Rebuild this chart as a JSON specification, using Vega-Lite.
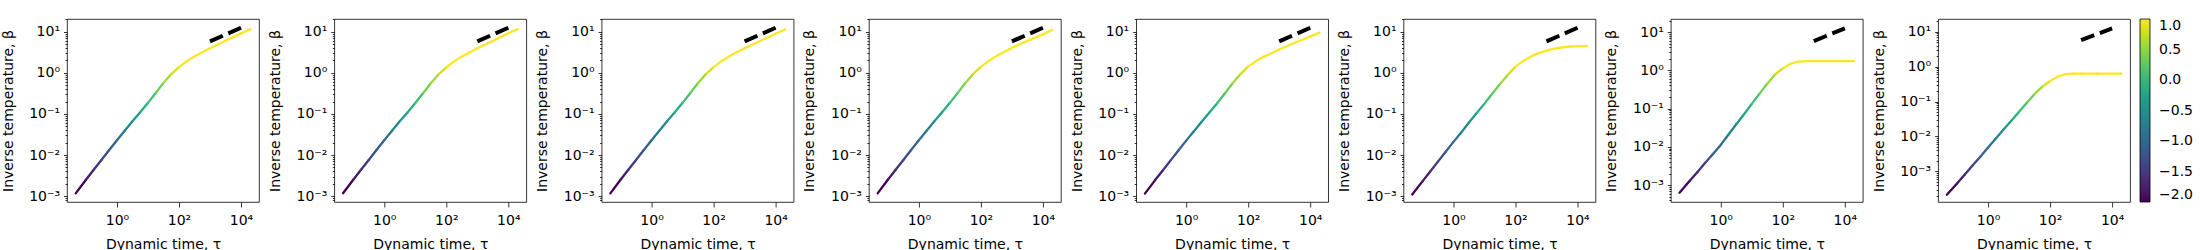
{
"$schema": "https://vega.github.io/schema/vega-lite/v6.json",
"padding": {"left": 0, "top": 11, "right": 0, "bottom": 0},
"bounds": "flush",
"spacing": 75.3,
"datasets": {
"dash": [{"t": 1000, "b": 5.8}, {"t": 10000, "b": 12.5}],
"curves": [
{"p":1,"t":0.0468,"b":0.00117,"c":-2},{"p":1,"t":0.1,"b":0.00251,"c":-1.8},{"p":1,"t":0.178,"b":0.00437,"c":-1.56},{"p":1,"t":0.316,"b":0.00759,"c":-1.33},{"p":1,"t":0.562,"b":0.0132,"c":-1.09},{"p":1,"t":1,"b":0.0229,"c":-0.85},{"p":1,"t":1.78,"b":0.0389,"c":-0.61},{"p":1,"t":3.16,"b":0.0661,"c":-0.38},{"p":1,"t":5.62,"b":0.11,"c":-0.14},{"p":1,"t":10,"b":0.186,"c":0.1},{"p":1,"t":17.8,"b":0.324,"c":0.34},{"p":1,"t":31.6,"b":0.569,"c":0.58},{"p":1,"t":56.2,"b":0.933,"c":0.81},{"p":1,"t":100,"b":1.38,"c":1},{"p":1,"t":178,"b":1.91,"c":1},{"p":1,"t":316,"b":2.51,"c":1},{"p":1,"t":562,"b":3.16,"c":1},{"p":1,"t":1000,"b":3.98,"c":1},{"p":1,"t":3160,"b":6.03,"c":1},{"p":1,"t":10000,"b":9.12,"c":1},{"p":1,"t":20000,"b":11.5,"c":1},
{"p":2,"t":0.0468,"b":0.00118,"c":-2},{"p":2,"t":0.1,"b":0.00251,"c":-1.8},{"p":2,"t":0.178,"b":0.00437,"c":-1.56},{"p":2,"t":0.316,"b":0.00759,"c":-1.33},{"p":2,"t":0.562,"b":0.0132,"c":-1.09},{"p":2,"t":1,"b":0.0229,"c":-0.85},{"p":2,"t":1.78,"b":0.0389,"c":-0.61},{"p":2,"t":3.16,"b":0.0661,"c":-0.38},{"p":2,"t":5.62,"b":0.109,"c":-0.14},{"p":2,"t":10,"b":0.184,"c":0.1},{"p":2,"t":17.8,"b":0.318,"c":0.34},{"p":2,"t":31.6,"b":0.555,"c":0.58},{"p":2,"t":56.2,"b":0.915,"c":0.81},{"p":2,"t":100,"b":1.36,"c":1},{"p":2,"t":178,"b":1.9,"c":1},{"p":2,"t":316,"b":2.48,"c":1},{"p":2,"t":562,"b":3.13,"c":1},{"p":2,"t":1000,"b":3.95,"c":1},{"p":2,"t":3160,"b":6.0,"c":1},{"p":2,"t":10000,"b":9.2,"c":1},{"p":2,"t":20000,"b":11.6,"c":1},
{"p":3,"t":0.0468,"b":0.00117,"c":-2},{"p":3,"t":0.1,"b":0.00251,"c":-1.8},{"p":3,"t":0.178,"b":0.00437,"c":-1.56},{"p":3,"t":0.316,"b":0.00759,"c":-1.33},{"p":3,"t":0.562,"b":0.0132,"c":-1.09},{"p":3,"t":1,"b":0.0229,"c":-0.85},{"p":3,"t":1.78,"b":0.0389,"c":-0.61},{"p":3,"t":3.16,"b":0.0661,"c":-0.38},{"p":3,"t":5.62,"b":0.11,"c":-0.14},{"p":3,"t":10,"b":0.186,"c":0.1},{"p":3,"t":17.8,"b":0.324,"c":0.34},{"p":3,"t":31.6,"b":0.565,"c":0.58},{"p":3,"t":56.2,"b":0.93,"c":0.81},{"p":3,"t":100,"b":1.38,"c":1},{"p":3,"t":178,"b":1.92,"c":1},{"p":3,"t":316,"b":2.5,"c":1},{"p":3,"t":562,"b":3.15,"c":1},{"p":3,"t":1000,"b":3.95,"c":1},{"p":3,"t":3160,"b":5.95,"c":1},{"p":3,"t":10000,"b":8.9,"c":1},{"p":3,"t":20000,"b":11.3,"c":1},
{"p":4,"t":0.0468,"b":0.00117,"c":-2},{"p":4,"t":0.1,"b":0.00251,"c":-1.8},{"p":4,"t":0.178,"b":0.00437,"c":-1.56},{"p":4,"t":0.316,"b":0.00759,"c":-1.33},{"p":4,"t":0.562,"b":0.0132,"c":-1.09},{"p":4,"t":1,"b":0.0229,"c":-0.85},{"p":4,"t":1.78,"b":0.0389,"c":-0.61},{"p":4,"t":3.16,"b":0.0661,"c":-0.38},{"p":4,"t":5.62,"b":0.11,"c":-0.14},{"p":4,"t":10,"b":0.186,"c":0.1},{"p":4,"t":17.8,"b":0.324,"c":0.34},{"p":4,"t":31.6,"b":0.569,"c":0.58},{"p":4,"t":56.2,"b":0.94,"c":0.81},{"p":4,"t":100,"b":1.4,"c":1},{"p":4,"t":178,"b":1.95,"c":1},{"p":4,"t":316,"b":2.55,"c":1},{"p":4,"t":562,"b":3.22,"c":1},{"p":4,"t":1000,"b":4.05,"c":1},{"p":4,"t":3160,"b":6.0,"c":1},{"p":4,"t":10000,"b":8.6,"c":1},{"p":4,"t":20000,"b":11.2,"c":1},
{"p":5,"t":0.0468,"b":0.00115,"c":-2},{"p":5,"t":0.1,"b":0.00246,"c":-1.8},{"p":5,"t":0.178,"b":0.00428,"c":-1.56},{"p":5,"t":0.316,"b":0.00742,"c":-1.33},{"p":5,"t":0.562,"b":0.0129,"c":-1.09},{"p":5,"t":1,"b":0.0224,"c":-0.85},{"p":5,"t":1.78,"b":0.038,"c":-0.61},{"p":5,"t":3.16,"b":0.0646,"c":-0.38},{"p":5,"t":5.62,"b":0.108,"c":-0.14},{"p":5,"t":10,"b":0.182,"c":0.1},{"p":5,"t":17.8,"b":0.318,"c":0.34},{"p":5,"t":31.6,"b":0.56,"c":0.58},{"p":5,"t":56.2,"b":0.93,"c":0.81},{"p":5,"t":100,"b":1.42,"c":1},{"p":5,"t":178,"b":1.93,"c":1},{"p":5,"t":316,"b":2.45,"c":1},{"p":5,"t":562,"b":3.0,"c":1},{"p":5,"t":1000,"b":3.7,"c":1},{"p":5,"t":3160,"b":5.4,"c":1},{"p":5,"t":10000,"b":7.6,"c":1},{"p":5,"t":20000,"b":9.5,"c":1},
{"p":6,"t":0.0468,"b":0.0011,"c":-2},{"p":6,"t":0.1,"b":0.00229,"c":-1.8},{"p":6,"t":0.178,"b":0.00398,"c":-1.56},{"p":6,"t":0.316,"b":0.00692,"c":-1.33},{"p":6,"t":0.562,"b":0.012,"c":-1.09},{"p":6,"t":1,"b":0.0209,"c":-0.85},{"p":6,"t":1.78,"b":0.0355,"c":-0.61},{"p":6,"t":3.16,"b":0.0617,"c":-0.38},{"p":6,"t":5.62,"b":0.105,"c":-0.14},{"p":6,"t":10,"b":0.178,"c":0.1},{"p":6,"t":17.8,"b":0.309,"c":0.34},{"p":6,"t":31.6,"b":0.537,"c":0.58},{"p":6,"t":56.2,"b":0.891,"c":0.81},{"p":6,"t":100,"b":1.41,"c":1},{"p":6,"t":178,"b":1.95,"c":1},{"p":6,"t":316,"b":2.51,"c":1},{"p":6,"t":562,"b":3.02,"c":1},{"p":6,"t":1000,"b":3.47,"c":1},{"p":6,"t":1780,"b":3.89,"c":1},{"p":6,"t":3160,"b":4.17,"c":1},{"p":6,"t":5620,"b":4.37,"c":1},{"p":6,"t":10000,"b":4.42,"c":1},{"p":6,"t":20000,"b":4.52,"c":1},
{"p":7,"t":0.0468,"b":0.000631,"c":-2},{"p":7,"t":0.1,"b":0.00129,"c":-1.8},{"p":7,"t":0.178,"b":0.00219,"c":-1.56},{"p":7,"t":0.316,"b":0.0038,"c":-1.33},{"p":7,"t":0.562,"b":0.00646,"c":-1.09},{"p":7,"t":1,"b":0.0112,"c":-0.85},{"p":7,"t":1.78,"b":0.0209,"c":-0.61},{"p":7,"t":3.16,"b":0.0389,"c":-0.38},{"p":7,"t":5.62,"b":0.0708,"c":-0.14},{"p":7,"t":10,"b":0.132,"c":0.1},{"p":7,"t":17.8,"b":0.245,"c":0.34},{"p":7,"t":31.6,"b":0.447,"c":0.58},{"p":7,"t":56.2,"b":0.776,"c":0.81},{"p":7,"t":100,"b":1.12,"c":1},{"p":7,"t":178,"b":1.48,"c":1},{"p":7,"t":316,"b":1.68,"c":1},{"p":7,"t":562,"b":1.74,"c":1},{"p":7,"t":1000,"b":1.74,"c":1},{"p":7,"t":3160,"b":1.74,"c":1},{"p":7,"t":10000,"b":1.74,"c":1},{"p":7,"t":20000,"b":1.74,"c":1},
{"p":8,"t":0.0468,"b":0.000214,"c":-2},{"p":8,"t":0.1,"b":0.000447,"c":-1.8},{"p":8,"t":0.178,"b":0.000813,"c":-1.56},{"p":8,"t":0.316,"b":0.00148,"c":-1.33},{"p":8,"t":0.562,"b":0.00263,"c":-1.09},{"p":8,"t":1,"b":0.00479,"c":-0.85},{"p":8,"t":1.78,"b":0.00871,"c":-0.61},{"p":8,"t":3.16,"b":0.0159,"c":-0.38},{"p":8,"t":5.62,"b":0.0282,"c":-0.14},{"p":8,"t":10,"b":0.0513,"c":0.1},{"p":8,"t":17.8,"b":0.0933,"c":0.34},{"p":8,"t":31.6,"b":0.166,"c":0.58},{"p":8,"t":56.2,"b":0.269,"c":0.81},{"p":8,"t":100,"b":0.389,"c":1},{"p":8,"t":178,"b":0.525,"c":1},{"p":8,"t":316,"b":0.61,"c":1},{"p":8,"t":562,"b":0.631,"c":1},{"p":8,"t":1000,"b":0.631,"c":1},{"p":8,"t":3160,"b":0.631,"c":1},{"p":8,"t":10000,"b":0.631,"c":1},{"p":8,"t":20000,"b":0.631,"c":1}
]
},
"resolve": {"scale": {"color": "shared"}, "legend": {"color": "shared"}},
"hconcat": [
{"width":192,"height":183,
 "encoding":{
  "x":{"field":"t","type":"quantitative","title":"Dynamic time, τ","scale":{"type":"log","domain":[0.0245,38000]},"axis":{"values":[1,100,10000],"labelExpr":"'10' + (datum.value < 1 ? '⁻' : '') + ['⁰','¹','²','³','⁴','⁵'][abs(round(log(datum.value)/LN10))]"}},
  "y":{"field":"b","type":"quantitative","title":"Inverse temperature, β","scale":{"type":"log","domain":[0.00072,20.4]},"axis":{"values":[0.0002,0.0003,0.0004,0.0005,0.0006,0.0007,0.0008,0.0009,0.001,0.002,0.003,0.004,0.005,0.006,0.007,0.008,0.009,0.01,0.02,0.03,0.04,0.05,0.06,0.07,0.08,0.09,0.1,0.2,0.3,0.4,0.5,0.6,0.7,0.8,0.9,1,2,3,4,5,6,7,8,9,10,20],"labelExpr":"abs(log(datum.value)/LN10 - round(log(datum.value)/LN10)) < 0.001 ? '10' + (datum.value < 1 ? '⁻' : '') + ['⁰','¹','²','³','⁴','⁵'][abs(round(log(datum.value)/LN10))] : ''","tickSize":{"condition":{"test":"abs(log(datum.value)/LN10 - round(log(datum.value)/LN10)) < 0.001","value":3.5},"value":2}}}
 },
 "layer":[
  {"data":{"name":"curves"},"transform":[{"filter":"datum.p == 1"},{"window":[{"op":"lead","field":"t","as":"t2"},{"op":"lead","field":"b","as":"b2"}],"sort":[{"field":"t","order":"ascending"}]},{"filter":"isValid(datum.t2)"}],
   "mark":{"type":"rule","strokeWidth":2.3,"strokeCap":"round"},
   "encoding":{"x2":{"field":"t2"},"y2":{"field":"b2"},"color":{"field":"c","type":"quantitative","scale":{"scheme":"viridis","domain":[-2,1]},"legend":{"title":null,"gradientLength":183,"gradientThickness":10,"values":[-2,-1.5,-1,-0.5,0,0.5,1],"format":".1f","labelExpr":"replace(datum.label, '-', '−')","gradientStrokeColor":"black","gradientStrokeWidth":0.8,"labelFontSize":14,"labelColor":"black","labelFont":"DejaVu Sans","labelOffset":9,"labelBaseline":"middle","offset":9,"padding":0,"direction":"vertical","orient":"right"}}}},
  {"data":{"name":"dash"},"mark":{"type":"line","color":"black","strokeWidth":4,"strokeDash":[14,6]},"encoding":{}}
 ]},
{"width":192,"height":183,
 "encoding":{
  "x":{"field":"t","type":"quantitative","title":"Dynamic time, τ","scale":{"type":"log","domain":[0.0245,38000]},"axis":{"values":[1,100,10000],"labelExpr":"'10' + (datum.value < 1 ? '⁻' : '') + ['⁰','¹','²','³','⁴','⁵'][abs(round(log(datum.value)/LN10))]"}},
  "y":{"field":"b","type":"quantitative","title":"Inverse temperature, β","scale":{"type":"log","domain":[0.00072,20.4]},"axis":{"values":[0.0002,0.0003,0.0004,0.0005,0.0006,0.0007,0.0008,0.0009,0.001,0.002,0.003,0.004,0.005,0.006,0.007,0.008,0.009,0.01,0.02,0.03,0.04,0.05,0.06,0.07,0.08,0.09,0.1,0.2,0.3,0.4,0.5,0.6,0.7,0.8,0.9,1,2,3,4,5,6,7,8,9,10,20],"labelExpr":"abs(log(datum.value)/LN10 - round(log(datum.value)/LN10)) < 0.001 ? '10' + (datum.value < 1 ? '⁻' : '') + ['⁰','¹','²','³','⁴','⁵'][abs(round(log(datum.value)/LN10))] : ''","tickSize":{"condition":{"test":"abs(log(datum.value)/LN10 - round(log(datum.value)/LN10)) < 0.001","value":3.5},"value":2}}}
 },
 "layer":[
  {"data":{"name":"curves"},"transform":[{"filter":"datum.p == 2"},{"window":[{"op":"lead","field":"t","as":"t2"},{"op":"lead","field":"b","as":"b2"}],"sort":[{"field":"t","order":"ascending"}]},{"filter":"isValid(datum.t2)"}],
   "mark":{"type":"rule","strokeWidth":2.3,"strokeCap":"round"},
   "encoding":{"x2":{"field":"t2"},"y2":{"field":"b2"},"color":{"field":"c","type":"quantitative","scale":{"scheme":"viridis","domain":[-2,1]}}}},
  {"data":{"name":"dash"},"mark":{"type":"line","color":"black","strokeWidth":4,"strokeDash":[14,6]},"encoding":{}}
 ]},
{"width":192,"height":183,
 "encoding":{
  "x":{"field":"t","type":"quantitative","title":"Dynamic time, τ","scale":{"type":"log","domain":[0.0245,38000]},"axis":{"values":[1,100,10000],"labelExpr":"'10' + (datum.value < 1 ? '⁻' : '') + ['⁰','¹','²','³','⁴','⁵'][abs(round(log(datum.value)/LN10))]"}},
  "y":{"field":"b","type":"quantitative","title":"Inverse temperature, β","scale":{"type":"log","domain":[0.00072,20.4]},"axis":{"values":[0.0002,0.0003,0.0004,0.0005,0.0006,0.0007,0.0008,0.0009,0.001,0.002,0.003,0.004,0.005,0.006,0.007,0.008,0.009,0.01,0.02,0.03,0.04,0.05,0.06,0.07,0.08,0.09,0.1,0.2,0.3,0.4,0.5,0.6,0.7,0.8,0.9,1,2,3,4,5,6,7,8,9,10,20],"labelExpr":"abs(log(datum.value)/LN10 - round(log(datum.value)/LN10)) < 0.001 ? '10' + (datum.value < 1 ? '⁻' : '') + ['⁰','¹','²','³','⁴','⁵'][abs(round(log(datum.value)/LN10))] : ''","tickSize":{"condition":{"test":"abs(log(datum.value)/LN10 - round(log(datum.value)/LN10)) < 0.001","value":3.5},"value":2}}}
 },
 "layer":[
  {"data":{"name":"curves"},"transform":[{"filter":"datum.p == 3"},{"window":[{"op":"lead","field":"t","as":"t2"},{"op":"lead","field":"b","as":"b2"}],"sort":[{"field":"t","order":"ascending"}]},{"filter":"isValid(datum.t2)"}],
   "mark":{"type":"rule","strokeWidth":2.3,"strokeCap":"round"},
   "encoding":{"x2":{"field":"t2"},"y2":{"field":"b2"},"color":{"field":"c","type":"quantitative","scale":{"scheme":"viridis","domain":[-2,1]}}}},
  {"data":{"name":"dash"},"mark":{"type":"line","color":"black","strokeWidth":4,"strokeDash":[14,6]},"encoding":{}}
 ]},
{"width":192,"height":183,
 "encoding":{
  "x":{"field":"t","type":"quantitative","title":"Dynamic time, τ","scale":{"type":"log","domain":[0.0245,38000]},"axis":{"values":[1,100,10000],"labelExpr":"'10' + (datum.value < 1 ? '⁻' : '') + ['⁰','¹','²','³','⁴','⁵'][abs(round(log(datum.value)/LN10))]"}},
  "y":{"field":"b","type":"quantitative","title":"Inverse temperature, β","scale":{"type":"log","domain":[0.00072,20.4]},"axis":{"values":[0.0002,0.0003,0.0004,0.0005,0.0006,0.0007,0.0008,0.0009,0.001,0.002,0.003,0.004,0.005,0.006,0.007,0.008,0.009,0.01,0.02,0.03,0.04,0.05,0.06,0.07,0.08,0.09,0.1,0.2,0.3,0.4,0.5,0.6,0.7,0.8,0.9,1,2,3,4,5,6,7,8,9,10,20],"labelExpr":"abs(log(datum.value)/LN10 - round(log(datum.value)/LN10)) < 0.001 ? '10' + (datum.value < 1 ? '⁻' : '') + ['⁰','¹','²','³','⁴','⁵'][abs(round(log(datum.value)/LN10))] : ''","tickSize":{"condition":{"test":"abs(log(datum.value)/LN10 - round(log(datum.value)/LN10)) < 0.001","value":3.5},"value":2}}}
 },
 "layer":[
  {"data":{"name":"curves"},"transform":[{"filter":"datum.p == 4"},{"window":[{"op":"lead","field":"t","as":"t2"},{"op":"lead","field":"b","as":"b2"}],"sort":[{"field":"t","order":"ascending"}]},{"filter":"isValid(datum.t2)"}],
   "mark":{"type":"rule","strokeWidth":2.3,"strokeCap":"round"},
   "encoding":{"x2":{"field":"t2"},"y2":{"field":"b2"},"color":{"field":"c","type":"quantitative","scale":{"scheme":"viridis","domain":[-2,1]}}}},
  {"data":{"name":"dash"},"mark":{"type":"line","color":"black","strokeWidth":4,"strokeDash":[14,6]},"encoding":{}}
 ]},
{"width":192,"height":183,
 "encoding":{
  "x":{"field":"t","type":"quantitative","title":"Dynamic time, τ","scale":{"type":"log","domain":[0.0245,38000]},"axis":{"values":[1,100,10000],"labelExpr":"'10' + (datum.value < 1 ? '⁻' : '') + ['⁰','¹','²','³','⁴','⁵'][abs(round(log(datum.value)/LN10))]"}},
  "y":{"field":"b","type":"quantitative","title":"Inverse temperature, β","scale":{"type":"log","domain":[0.00072,20.4]},"axis":{"values":[0.0002,0.0003,0.0004,0.0005,0.0006,0.0007,0.0008,0.0009,0.001,0.002,0.003,0.004,0.005,0.006,0.007,0.008,0.009,0.01,0.02,0.03,0.04,0.05,0.06,0.07,0.08,0.09,0.1,0.2,0.3,0.4,0.5,0.6,0.7,0.8,0.9,1,2,3,4,5,6,7,8,9,10,20],"labelExpr":"abs(log(datum.value)/LN10 - round(log(datum.value)/LN10)) < 0.001 ? '10' + (datum.value < 1 ? '⁻' : '') + ['⁰','¹','²','³','⁴','⁵'][abs(round(log(datum.value)/LN10))] : ''","tickSize":{"condition":{"test":"abs(log(datum.value)/LN10 - round(log(datum.value)/LN10)) < 0.001","value":3.5},"value":2}}}
 },
 "layer":[
  {"data":{"name":"curves"},"transform":[{"filter":"datum.p == 5"},{"window":[{"op":"lead","field":"t","as":"t2"},{"op":"lead","field":"b","as":"b2"}],"sort":[{"field":"t","order":"ascending"}]},{"filter":"isValid(datum.t2)"}],
   "mark":{"type":"rule","strokeWidth":2.3,"strokeCap":"round"},
   "encoding":{"x2":{"field":"t2"},"y2":{"field":"b2"},"color":{"field":"c","type":"quantitative","scale":{"scheme":"viridis","domain":[-2,1]}}}},
  {"data":{"name":"dash"},"mark":{"type":"line","color":"black","strokeWidth":4,"strokeDash":[14,6]},"encoding":{}}
 ]},
{"width":192,"height":183,
 "encoding":{
  "x":{"field":"t","type":"quantitative","title":"Dynamic time, τ","scale":{"type":"log","domain":[0.0245,38000]},"axis":{"values":[1,100,10000],"labelExpr":"'10' + (datum.value < 1 ? '⁻' : '') + ['⁰','¹','²','³','⁴','⁵'][abs(round(log(datum.value)/LN10))]"}},
  "y":{"field":"b","type":"quantitative","title":"Inverse temperature, β","scale":{"type":"log","domain":[0.00072,20.4]},"axis":{"values":[0.0002,0.0003,0.0004,0.0005,0.0006,0.0007,0.0008,0.0009,0.001,0.002,0.003,0.004,0.005,0.006,0.007,0.008,0.009,0.01,0.02,0.03,0.04,0.05,0.06,0.07,0.08,0.09,0.1,0.2,0.3,0.4,0.5,0.6,0.7,0.8,0.9,1,2,3,4,5,6,7,8,9,10,20],"labelExpr":"abs(log(datum.value)/LN10 - round(log(datum.value)/LN10)) < 0.001 ? '10' + (datum.value < 1 ? '⁻' : '') + ['⁰','¹','²','³','⁴','⁵'][abs(round(log(datum.value)/LN10))] : ''","tickSize":{"condition":{"test":"abs(log(datum.value)/LN10 - round(log(datum.value)/LN10)) < 0.001","value":3.5},"value":2}}}
 },
 "layer":[
  {"data":{"name":"curves"},"transform":[{"filter":"datum.p == 6"},{"window":[{"op":"lead","field":"t","as":"t2"},{"op":"lead","field":"b","as":"b2"}],"sort":[{"field":"t","order":"ascending"}]},{"filter":"isValid(datum.t2)"}],
   "mark":{"type":"rule","strokeWidth":2.3,"strokeCap":"round"},
   "encoding":{"x2":{"field":"t2"},"y2":{"field":"b2"},"color":{"field":"c","type":"quantitative","scale":{"scheme":"viridis","domain":[-2,1]}}}},
  {"data":{"name":"dash"},"mark":{"type":"line","color":"black","strokeWidth":4,"strokeDash":[14,6]},"encoding":{}}
 ]},
{"width":192,"height":183,
 "encoding":{
  "x":{"field":"t","type":"quantitative","title":"Dynamic time, τ","scale":{"type":"log","domain":[0.0245,38000]},"axis":{"values":[1,100,10000],"labelExpr":"'10' + (datum.value < 1 ? '⁻' : '') + ['⁰','¹','²','³','⁴','⁵'][abs(round(log(datum.value)/LN10))]"}},
  "y":{"field":"b","type":"quantitative","title":"Inverse temperature, β","scale":{"type":"log","domain":[0.00036,21.9]},"axis":{"values":[0.0002,0.0003,0.0004,0.0005,0.0006,0.0007,0.0008,0.0009,0.001,0.002,0.003,0.004,0.005,0.006,0.007,0.008,0.009,0.01,0.02,0.03,0.04,0.05,0.06,0.07,0.08,0.09,0.1,0.2,0.3,0.4,0.5,0.6,0.7,0.8,0.9,1,2,3,4,5,6,7,8,9,10,20],"labelExpr":"abs(log(datum.value)/LN10 - round(log(datum.value)/LN10)) < 0.001 ? '10' + (datum.value < 1 ? '⁻' : '') + ['⁰','¹','²','³','⁴','⁵'][abs(round(log(datum.value)/LN10))] : ''","tickSize":{"condition":{"test":"abs(log(datum.value)/LN10 - round(log(datum.value)/LN10)) < 0.001","value":3.5},"value":2}}}
 },
 "layer":[
  {"data":{"name":"curves"},"transform":[{"filter":"datum.p == 7"},{"window":[{"op":"lead","field":"t","as":"t2"},{"op":"lead","field":"b","as":"b2"}],"sort":[{"field":"t","order":"ascending"}]},{"filter":"isValid(datum.t2)"}],
   "mark":{"type":"rule","strokeWidth":2.3,"strokeCap":"round"},
   "encoding":{"x2":{"field":"t2"},"y2":{"field":"b2"},"color":{"field":"c","type":"quantitative","scale":{"scheme":"viridis","domain":[-2,1]}}}},
  {"data":{"name":"dash"},"mark":{"type":"line","color":"black","strokeWidth":4,"strokeDash":[14,6]},"encoding":{}}
 ]},
{"width":192,"height":183,
 "encoding":{
  "x":{"field":"t","type":"quantitative","title":"Dynamic time, τ","scale":{"type":"log","domain":[0.0245,38000]},"axis":{"values":[1,100,10000],"labelExpr":"'10' + (datum.value < 1 ? '⁻' : '') + ['⁰','¹','²','³','⁴','⁵'][abs(round(log(datum.value)/LN10))]"}},
  "y":{"field":"b","type":"quantitative","title":"Inverse temperature, β","scale":{"type":"log","domain":[0.000132,23.4]},"axis":{"values":[0.0002,0.0003,0.0004,0.0005,0.0006,0.0007,0.0008,0.0009,0.001,0.002,0.003,0.004,0.005,0.006,0.007,0.008,0.009,0.01,0.02,0.03,0.04,0.05,0.06,0.07,0.08,0.09,0.1,0.2,0.3,0.4,0.5,0.6,0.7,0.8,0.9,1,2,3,4,5,6,7,8,9,10,20],"labelExpr":"abs(log(datum.value)/LN10 - round(log(datum.value)/LN10)) < 0.001 ? '10' + (datum.value < 1 ? '⁻' : '') + ['⁰','¹','²','³','⁴','⁵'][abs(round(log(datum.value)/LN10))] : ''","tickSize":{"condition":{"test":"abs(log(datum.value)/LN10 - round(log(datum.value)/LN10)) < 0.001","value":3.5},"value":2}}}
 },
 "layer":[
  {"data":{"name":"curves"},"transform":[{"filter":"datum.p == 8"},{"window":[{"op":"lead","field":"t","as":"t2"},{"op":"lead","field":"b","as":"b2"}],"sort":[{"field":"t","order":"ascending"}]},{"filter":"isValid(datum.t2)"}],
   "mark":{"type":"rule","strokeWidth":2.3,"strokeCap":"round"},
   "encoding":{"x2":{"field":"t2"},"y2":{"field":"b2"},"color":{"field":"c","type":"quantitative","scale":{"scheme":"viridis","domain":[-2,1]}}}},
  {"data":{"name":"dash"},"mark":{"type":"line","color":"black","strokeWidth":4,"strokeDash":[14,6]},"encoding":{}}
 ]}
],
"config": {
 "background": "white",
 "font": "DejaVu Sans",
 "view": {"stroke": "black", "strokeWidth": 0.8},
 "axis": {"grid": false, "domain": false, "tickColor": "black", "tickWidth": 0.8, "labelColor": "black", "titleColor": "black", "labelFont": "DejaVu Sans", "titleFont": "DejaVu Sans", "labelFontSize": 14, "titleFontSize": 14, "titleFontWeight": "normal", "labelOverlap": false, "labelFlush": false},
 "axisX": {"labelPadding": 6, "titleY": 35, "titleBaseline": "top"},
 "axisY": {"labelPadding": 4, "titleX": -55, "titleBaseline": "alphabetic"}
}
}
